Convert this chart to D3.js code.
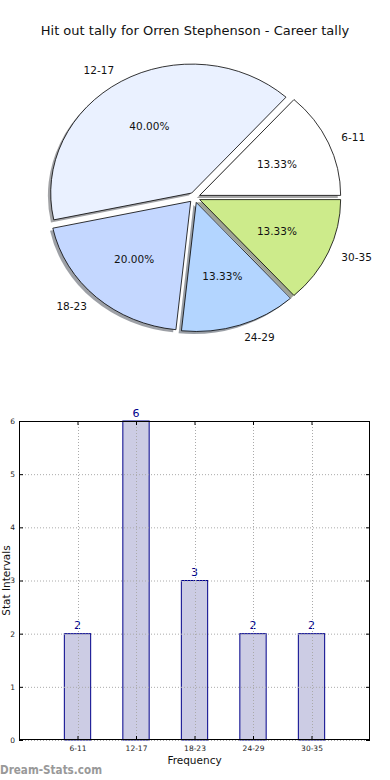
<!DOCTYPE html>
<html>
<head>
<meta charset="utf-8">
<script src="https://cdn.jsdelivr.net/npm/d3@7"></script>
<style>
  html, body { margin: 0; padding: 0; background: #fff; }
  svg { display: block; font-family: "DejaVu Sans", sans-serif; }
</style>
</head>
<body>
<svg id="chart" width="390" height="780"></svg>
<script>
// ---- data ----
const title = "Hit out tally for Orren Stephenson - Career tally";
const categories = ["6-11", "12-17", "18-23", "24-29", "30-35"];
const counts = [2, 6, 3, 2, 2];
const pieColors = ["#ffffff", "#eaf1ff", "#c4d7ff", "#b3d5ff", "#cdeb8b"];
const yTicks = [0, 1, 2, 3, 4, 5, 6];
const xLabel = "Frequency";
const yLabel = "Stat Intervals";
const watermark = "Dream-Stats.com";

const svg = d3.select("#chart");

// ---- title ----
svg.append("text")
  .attr("x", 195).attr("y", 35)
  .attr("text-anchor", "middle")
  .attr("font-size", 13)
  .attr("fill", "#111")
  .text(title);

// ---- pie ----
const cx = 194.5, cy = 197.5, rx = 141, ry = 129, explode = 0.04;
const total = d3.sum(counts);
const pie = d3.pie().sort(null).startAngle(Math.PI / 2).endAngle(Math.PI / 2 - 2 * Math.PI);
const arcs = pie(counts);
const arc = d3.arc().innerRadius(0).outerRadius(1);

function dir(d) {
  const a = (d.startAngle + d.endAngle) / 2;
  return [Math.sin(a), -Math.cos(a)];
}
function shade(c) {
  const col = d3.rgb(c);
  return d3.rgb(col.r * 0.3, col.g * 0.3, col.b * 0.3).toString();
}

const pieG = svg.append("g");
// shadows
pieG.selectAll("path.shadow").data(arcs).join("path")
  .attr("class", "shadow")
  .attr("transform", (d, i) => {
    const [ux, uy] = dir(d);
    return `translate(${cx + ux * explode * rx - 0.02 * rx},${cy + uy * explode * ry + 0.02 * ry}) scale(${rx},${ry})`;
  })
  .attr("d", arc)
  .attr("fill", (d, i) => shade(pieColors[i]))
  .attr("fill-opacity", 0.5);
// wedges
pieG.selectAll("path.wedge").data(arcs).join("path")
  .attr("class", "wedge")
  .attr("transform", d => {
    const [ux, uy] = dir(d);
    return `translate(${cx + ux * explode * rx},${cy + uy * explode * ry}) scale(${rx},${ry})`;
  })
  .attr("d", arc)
  .attr("fill", (d, i) => pieColors[i])
  .attr("stroke", "#000")
  .attr("stroke-width", 0.8)
  .attr("vector-effect", "non-scaling-stroke");
// labels
arcs.forEach((d, i) => {
  const [ux, uy] = dir(d);
  const ecx = cx + ux * explode * rx, ecy = cy + uy * explode * ry;
  svg.append("text")
    .attr("x", ecx + 1.1 * rx * ux)
    .attr("y", ecy + 1.1 * ry * uy)
    .attr("dy", "0.35em")
    .attr("text-anchor", ux > 0 ? "start" : "end")
    .attr("font-size", 10.5)
    .attr("fill", "#111")
    .text(categories[i]);
  svg.append("text")
    .attr("x", ecx + 0.6 * rx * ux)
    .attr("y", ecy + 0.6 * ry * uy)
    .attr("dy", "0.35em")
    .attr("text-anchor", "middle")
    .attr("font-size", 10.5)
    .attr("fill", "#111")
    .text((d.value / total * 100).toFixed(2) + "%");
});

// ---- bar chart ----
const L = 19, R = 370, T = 421, B = 740;
const x = d3.scaleLinear().domain([-1, 5]).range([L, R]);
const y = d3.scaleLinear().domain([0, 6]).range([B, T]);
const bw = x(0.45) - x(0);

const barG = svg.append("g");
barG.selectAll("rect.bar").data(counts).join("rect")
  .attr("class", "bar")
  .attr("x", (d, i) => x(i) - bw / 2)
  .attr("y", d => y(d))
  .attr("width", bw)
  .attr("height", d => y(0) - y(d))
  .attr("fill", "#ccccE4")
  .attr("stroke", "#00008b")
  .attr("stroke-width", 1);

// grid
const gridG = svg.append("g").attr("stroke", "#aaa").attr("stroke-width", 1).attr("stroke-dasharray", "1,2");
gridG.selectAll("line.h").data(yTicks).join("line")
  .attr("x1", L).attr("x2", R)
  .attr("y1", d => y(d) + 0.5).attr("y2", d => y(d) + 0.5);
gridG.selectAll("line.v").data(categories).join("line")
  .attr("x1", (d, i) => Math.round(x(i)) + 0.5).attr("x2", (d, i) => Math.round(x(i)) + 0.5)
  .attr("y1", T).attr("y2", B);

// axes
const idx = categories.map((d, i) => i);
const axL = svg.append("g").attr("transform", `translate(${L},0)`)
  .call(d3.axisLeft(y).tickValues(yTicks).tickSize(-4).tickPadding(4).tickFormat(d3.format("d")));
const axR = svg.append("g").attr("transform", `translate(${R},0)`)
  .call(d3.axisRight(y).tickValues(yTicks).tickSize(-4).tickFormat(""));
const axB = svg.append("g").attr("transform", `translate(0,${B})`)
  .call(d3.axisBottom(x).tickValues(idx).tickSize(-4).tickPadding(6).tickFormat(i => categories[i]));
const axT = svg.append("g").attr("transform", `translate(0,${T})`)
  .call(d3.axisTop(x).tickValues(idx).tickSize(-4).tickFormat(""));
[axL, axR, axB, axT].forEach(a => {
  a.select(".domain").remove();
  a.selectAll("text").attr("font-family", "DejaVu Sans, sans-serif").attr("font-size", 7.5).attr("fill", "#222");
  a.selectAll("line").attr("stroke", "#000");
});

// frame
svg.append("rect")
  .attr("x", L + 0.5).attr("y", T + 0.5)
  .attr("width", R - L - 1).attr("height", B - T - 1)
  .attr("fill", "none").attr("stroke", "#000").attr("stroke-width", 1);

// value labels
barG.selectAll("text.val").data(counts).join("text")
  .attr("class", "val")
  .attr("x", (d, i) => x(i))
  .attr("y", d => y(d) - 4.5)
  .attr("text-anchor", "middle")
  .attr("font-size", 11)
  .attr("fill", "#00008b")
  .text(d => d);

// axis labels
svg.append("text")
  .attr("x", (L + R) / 2).attr("y", 764)
  .attr("text-anchor", "middle")
  .attr("font-size", 10.5)
  .attr("fill", "#111")
  .text(xLabel);
svg.append("text")
  .attr("transform", `translate(9.5,${(T + B) / 2}) rotate(-90)`)
  .attr("text-anchor", "middle")
  .attr("font-size", 10.5)
  .attr("fill", "#111")
  .text(yLabel);

// watermark
svg.append("text")
  .attr("x", 0).attr("y", 774)
  .attr("font-size", 12.5)
  .attr("font-weight", 600)
  .attr("fill", "#999")
  .attr("textLength", 102)
  .attr("lengthAdjust", "spacingAndGlyphs")
  .text(watermark);
</script>
</body>
</html>
